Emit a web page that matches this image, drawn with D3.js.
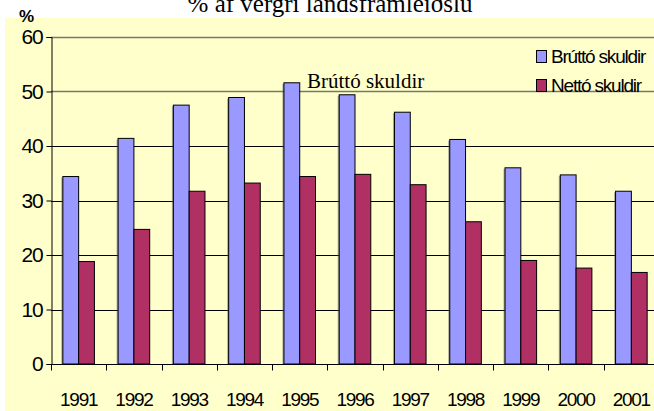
<!DOCTYPE html>
<html>
<head>
<meta charset="utf-8">
<script src="https://cdn.jsdelivr.net/npm/d3@7"></script>
<style>
  html, body { margin: 0; padding: 0; background: #fff; }
  svg { display: block; }
</style>
</head>
<body>
<svg id="chart" width="654" height="411"></svg>
<script>
// gögn lesin af myndinni
const years = ['1991', '1992', '1993', '1994', '1995', '1996', '1997', '1998', '1999', '2000', '2001'];
const seriesNames = ['Brúttó skuldir', 'Nettó skuldir'];
const bruttoValues = [34.4, 41.4, 47.5, 48.9, 51.6, 49.4, 46.2, 41.2, 36.0, 34.7, 31.7];
const nettoValues = [18.8, 24.7, 31.7, 33.2, 34.4, 34.8, 32.9, 26.1, 19.0, 17.6, 16.8];
const yTicks = [0, 10, 20, 30, 40, 50, 60];

const colors = ['#9999FF', '#B03064'];
const values = [bruttoValues, nettoValues];

const svg = d3.select('#chart');
const W = 654, H = 411;
const margin = { top: 37, left: 51, bottom: 47, right: -5 };
const plotBottom = H - margin.bottom;

// gulur bakgrunnur
svg.append('rect').attr('x', 5).attr('y', 18).attr('width', W - 5).attr('height', H - 18).attr('fill', '#FFFFCC');

// titill (skorinn að ofan eins og í frumriti)
svg.append('text')
  .attr('x', 330).attr('y', 12)
  .attr('text-anchor', 'middle')
  .attr('font-family', '"Liberation Serif", "Times New Roman", serif')
  .attr('font-size', 25)
  .attr('fill', '#000')
  .text('% af vergri landsframleiðslu');

svg.append('text')
  .attr('x', 19).attr('y', 22)
  .attr('font-family', '"Liberation Sans", Arial, sans-serif')
  .attr('font-weight', 'bold')
  .attr('font-size', 17)
  .text('%');

const x = d3.scaleBand().domain(years).range([margin.left, W - margin.right]).padding(0);
const bw = x.bandwidth() / 3.5;
const xs = d3.scaleBand().domain(seriesNames)
  .range([bw * 0.75, bw * 0.75 + bw * 2]).padding(0);
const y = d3.scaleLinear().domain([0, 60]).range([plotBottom, margin.top]);

// hnitalínur
svg.append('g').selectAll('line')
  .data(yTicks.filter(d => d > 0))
  .join('line')
  .attr('x1', margin.left).attr('x2', W)
  .attr('y1', d => Math.round(y(d)) + 0.5).attr('y2', d => Math.round(y(d)) + 0.5)
  .attr('stroke', d => d >= 50 ? '#77776a' : '#000')
  .attr('stroke-width', d => d >= 50 ? 1.6 : 1);

// súlur
const groups = svg.append('g').selectAll('g')
  .data(years)
  .join('g')
  .attr('transform', d => `translate(${x(d)},0)`);

groups.selectAll('rect.shadow')
  .data((d, i) => seriesNames.map((s, j) => ({ s, v: values[j][i], c: colors[j] })))
  .join('rect')
  .attr('class', 'shadow')
  .attr('x', d => xs(d.s) - 1.5)
  .attr('y', d => y(d.v) + 1)
  .attr('width', xs.bandwidth())
  .attr('height', d => y(0) - y(d.v) - 1)
  .attr('fill', '#555')
  .attr('opacity', 0.5);

groups.selectAll('rect.bar')
  .data((d, i) => seriesNames.map((s, j) => ({ s, v: values[j][i], c: colors[j] })))
  .join('rect')
  .attr('class', 'bar')
  .attr('x', d => xs(d.s))
  .attr('y', d => y(d.v))
  .attr('width', xs.bandwidth())
  .attr('height', d => y(0) - y(d.v))
  .attr('fill', d => d.c)
  .attr('stroke', '#000')
  .attr('stroke-width', 1);

// ásar
const yAxis = svg.append('g')
  .attr('transform', `translate(${margin.left + 0.5},0)`)
  .call(d3.axisLeft(y).tickValues(yTicks).tickSize(5).tickPadding(4).tickFormat(d3.format('d')));
yAxis.select('.domain').attr('stroke', '#000');
yAxis.selectAll('text')
  .attr('font-family', '"Liberation Sans", Arial, sans-serif')
  .attr('font-size', 21)
  .attr('letter-spacing', -1.2)
  .attr('fill', '#000');

const xAxis = svg.append('g')
  .attr('transform', `translate(0,${Math.round(plotBottom) + 0.5})`);
xAxis.append('line')
  .attr('x1', margin.left).attr('x2', W).attr('stroke', '#000');
xAxis.selectAll('line.tick')
  .data(years.map(d => x(d)))
  .join('line')
  .attr('class', 'tick')
  .attr('x1', d => Math.round(d) + 0.5).attr('x2', d => Math.round(d) + 0.5)
  .attr('y1', 0).attr('y2', 6)
  .attr('stroke', '#000');
xAxis.selectAll('text')
  .data(years)
  .join('text')
  .attr('x', d => x(d) + x.bandwidth() / 2)
  .attr('y', 41)
  .attr('text-anchor', 'middle')
  .attr('font-family', '"Liberation Sans", Arial, sans-serif')
  .attr('font-size', 19)
  .attr('letter-spacing', -1.3)
  .text(d => d);

// merking
svg.append('text')
  .attr('x', 307).attr('y', 88)
  .attr('font-family', '"Liberation Serif", "Times New Roman", serif')
  .attr('font-size', 21)
  .text('Brúttó skuldir');

// skýringar
const legend = svg.append('g').attr('transform', 'translate(536,50)');
const li = legend.selectAll('g').data(seriesNames).join('g')
  .attr('transform', (d, i) => `translate(0,${i * 29})`);
li.append('rect')
  .attr('x', 0.5).attr('y', 0.5).attr('width', 10).attr('height', 12)
  .attr('fill', (d, i) => colors[i]).attr('stroke', '#000');
li.append('text')
  .attr('x', 15).attr('y', 13)
  .attr('font-family', '"Liberation Sans", Arial, sans-serif')
  .attr('font-size', 19)
  .attr('letter-spacing', -1.2)
  .text(d => d);
</script>
</body>
</html>
